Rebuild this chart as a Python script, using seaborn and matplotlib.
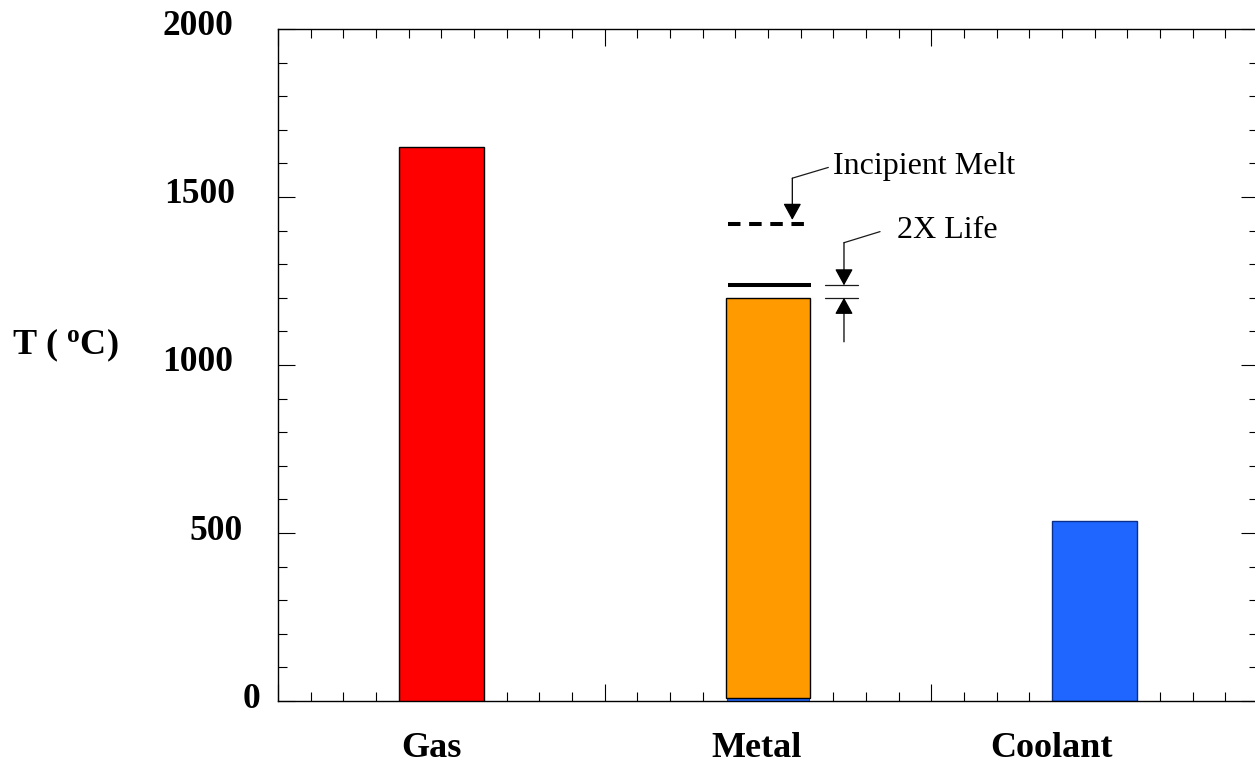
import matplotlib
matplotlib.use("Agg")
import matplotlib.pyplot as plt
import matplotlib.transforms as mtransforms
from matplotlib.ticker import MultipleLocator, FixedLocator, NullFormatter
import pandas as pd
import seaborn as sns

# ---- data -----------------------------------------------------------------
categories = ["Gas", "Metal", "Coolant"]
temperatures = [1650, 1200, 535]        # deg C, bar totals
base_layer = [0, 8, 0]                  # thin coolant-coloured base under the metal bar
bar_colors = ["#FF0000", "#FF9A00", "#1E66FF"]
incipient_melt = 1420                   # deg C, dashed reference
double_life = 1237                      # deg C, solid reference
y_ticks = [0, 500, 1000, 1500, 2000]
y_tick_labels = ["0", "500", "1000", "1500", "2000"]

# ---- style ----------------------------------------------------------------
sns.set_theme(style="white")
plt.rcParams["font.family"] = ["Liberation Serif", "DejaVu Serif"]
plt.rcParams["mathtext.fontset"] = "custom"
plt.rcParams["mathtext.rm"] = "Liberation Serif:bold"
plt.rcParams["mathtext.bf"] = "Liberation Serif:bold"
plt.rcParams["mathtext.it"] = "Liberation Serif:bold:italic"

W, H = 1255, 766
fig = plt.figure(figsize=(W / 100, H / 100), dpi=100)
fig.patch.set_facecolor("white")
ax = fig.add_axes([278 / W, 65 / H, 980 / W, 672 / H])
ax.set_facecolor("white")

# ---- bars -----------------------------------------------------------------
df = pd.DataFrame({"category": categories, "temperature": temperatures})
sns.barplot(data=df, x="category", y="temperature", hue="category",
            palette=bar_colors, saturation=1, width=0.26, errorbar=None,
            edgecolor="black", linewidth=1.0, legend=False, ax=ax)
main_bars = list(ax.patches)

base_df = pd.DataFrame({"category": categories, "temperature": base_layer})
n0 = len(ax.patches)
sns.barplot(data=base_df, x="category", y="temperature", color=bar_colors[2],
            saturation=1, width=0.25, errorbar=None,
            edgecolor="#0A2E8C", linewidth=0.6, ax=ax)
base_bars = list(ax.patches[n0:])

# stack the main bars on top of the base layer
for bar, total, base in zip(main_bars, temperatures, base_layer):
    bar.set_y(base)
    bar.set_height(total - base)
    bar.set_zorder(3)
main_bars[2].set_edgecolor("#0A2E8C")
main_bars[2].set_zorder(1)
for bar in base_bars:
    bar.set_zorder(1)

# ---- axes, ticks ----------------------------------------------------------
ax.set_xlim(-0.5, 2.5)
ax.set_ylim(0, 2000)
ax.set_xlabel("")
ax.xaxis.set_major_locator(FixedLocator([-0.5, 0.5, 1.5, 2.5]))
ax.xaxis.set_major_formatter(NullFormatter())
ax.xaxis.set_minor_locator(MultipleLocator(0.1))
ax.xaxis.set_minor_formatter(NullFormatter())
ax.yaxis.set_minor_locator(MultipleLocator(100))

for side in ["left", "right", "top", "bottom"]:
    ax.spines[side].set_visible(True)
    ax.spines[side].set_color("black")
    ax.spines[side].set_linewidth(1.0)

ax.tick_params(which="both", direction="in", top=True, right=True,
               bottom=True, left=True, color="black", width=0.8)
ax.tick_params(which="major", length=12.2)
ax.tick_params(which="minor", length=6.3)
ax.tick_params(axis="y", which="major", pad=32.4, labelcolor="black")

ax.set_yticks(y_ticks, labels=y_tick_labels, fontsize=25.5, fontweight="bold")
label_shift_px = [27, 10, 0, 2, 0]
for lbl, dx in zip(ax.get_yticklabels(), label_shift_px):
    lbl.set_transform(lbl.get_transform() +
                      mtransforms.ScaledTranslation(dx / 100, 6 / 100, fig.dpi_scale_trans))

ax.set_ylabel(r"T ( $^{\rm o}$C)", rotation=0, fontsize=26, fontweight="bold",
              ha="center", va="center", color="black")
ax.yaxis.set_label_coords((65 - 278) / 980, (701 - 345) / 672)

# category names below the axis
name_shift = [-0.03, -0.035, -0.132]
xt = mtransforms.blended_transform_factory(ax.transData, ax.transAxes)
for i, (name, dx) in enumerate(zip(categories, name_shift)):
    ax.text(i + dx, -0.0833, name, transform=xt, ha="center", va="baseline",
            fontsize=26, fontweight="bold", color="black")

# ---- reference levels on the metal bar ------------------------------------
m = 1  # metal bar position
ax.plot([m - 0.1225, m + 0.116], [incipient_melt, incipient_melt], color="black",
        lw=2.9, linestyle=(0, (3.1, 2.15)), dash_capstyle="butt",
        solid_capstyle="butt", zorder=5)
ax.plot([m - 0.1225, m + 0.1316], [double_life, double_life], color="black",
        lw=2.9, solid_capstyle="butt", zorder=5)

lead = dict(color="#1a1a1a", lw=0.9, zorder=5)
head = dict(arrowstyle="-|>,head_length=0.6,head_width=0.33", color="black",
            lw=0.9, shrinkA=0, shrinkB=0, mutation_scale=17)

# "Incipient Melt" callout
ax.text(m + 0.199, incipient_melt + 148, "Incipient Melt", fontsize=23,
        ha="left", va="baseline", color="black", zorder=6)
ax.plot([m + 0.1846, m + 0.0744], [incipient_melt + 168, incipient_melt + 136], **lead)
ax.annotate("", xy=(m + 0.0744, incipient_melt + 12),
            xytext=(m + 0.0744, incipient_melt + 136), arrowprops=head, zorder=6)

# "2X Life" callout with dimension marks between bar top and the life line
ax.text(m + 0.394, double_life + 140, "2X Life", fontsize=23,
        ha="left", va="baseline", color="black", zorder=6)
ax.plot([m + 0.343, m + 0.2326], [double_life + 160, double_life + 127], **lead)
ax.annotate("", xy=(m + 0.2326, double_life),
            xytext=(m + 0.2326, double_life + 127), arrowprops=head, zorder=6)
for level in (double_life, temperatures[1]):
    ax.plot([m + 0.1745, m + 0.2764], [level, level], **lead)
ax.annotate("", xy=(m + 0.2326, temperatures[1]),
            xytext=(m + 0.2326, temperatures[1] - 131), arrowprops=head, zorder=6)

fig.savefig("out.png", dpi=100, facecolor="white")
